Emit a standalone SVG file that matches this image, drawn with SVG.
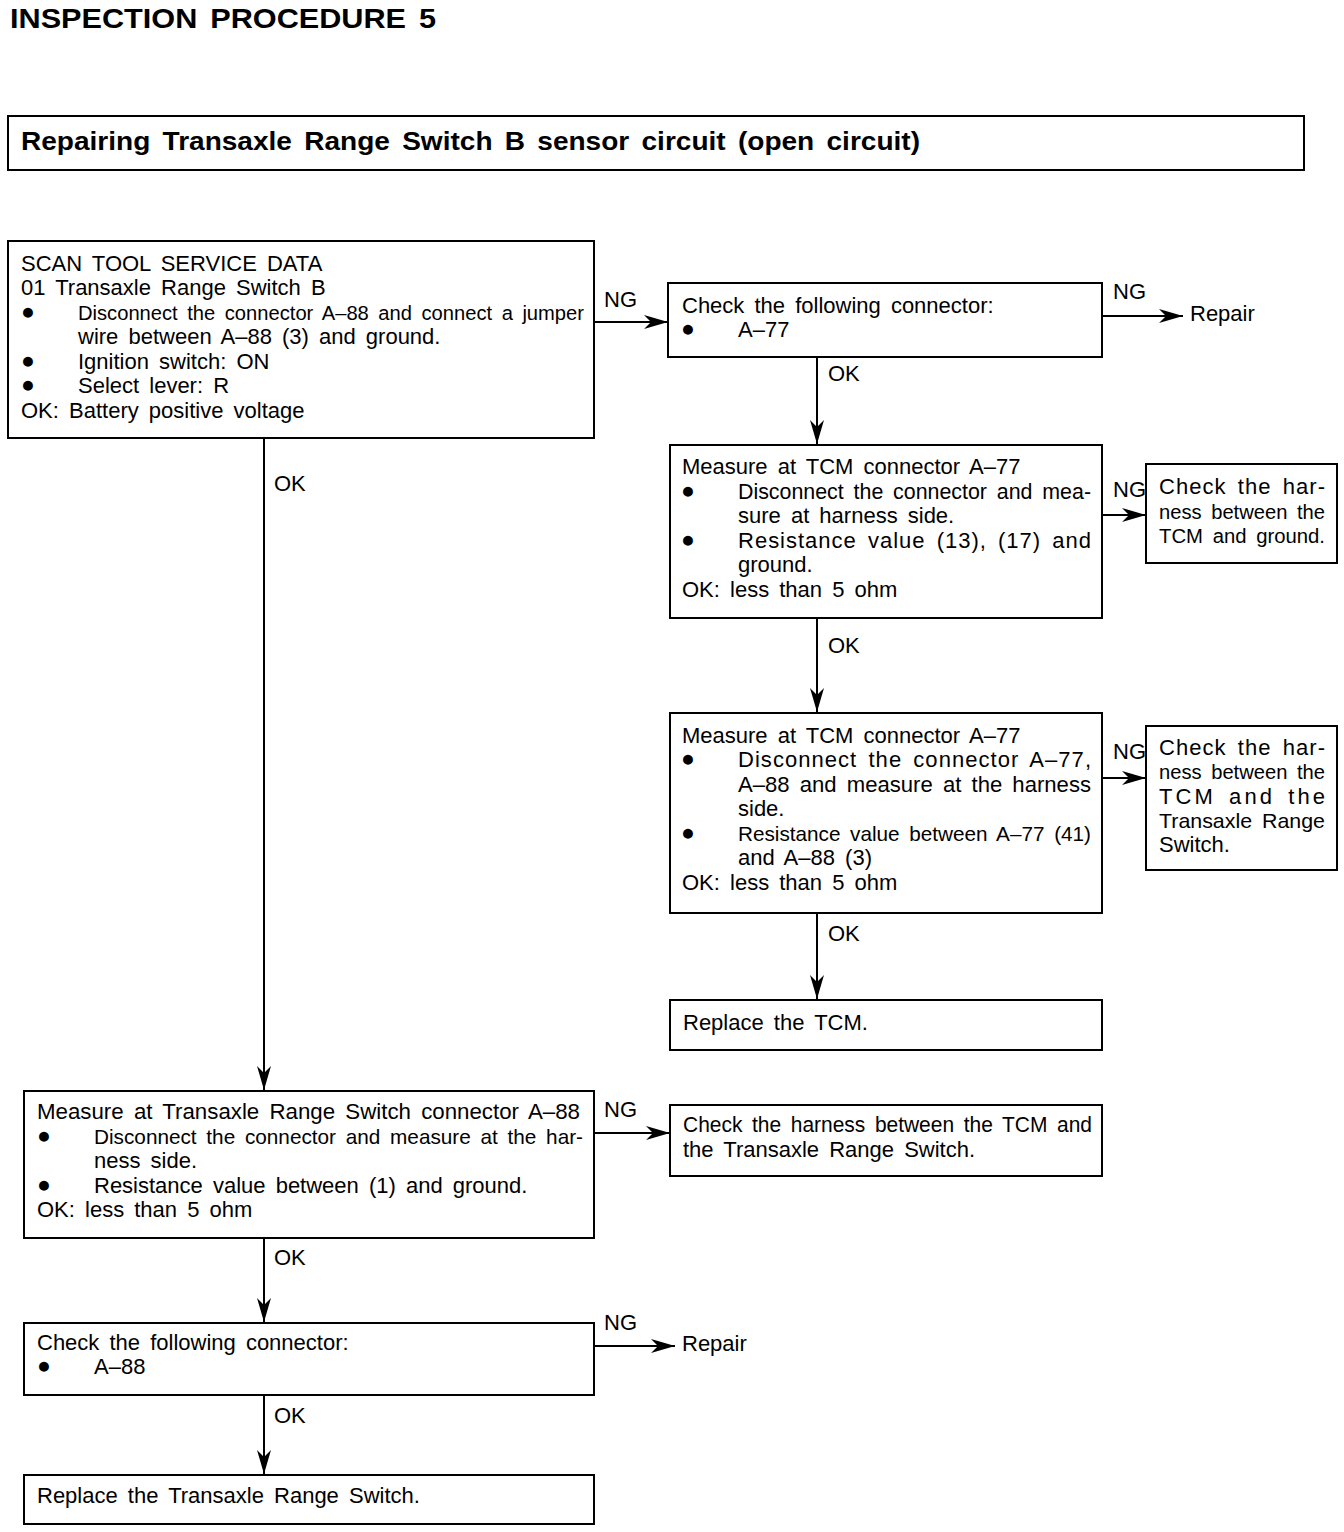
<svg xmlns="http://www.w3.org/2000/svg" width="1344" height="1532" viewBox="0 0 1344 1532">
<style>
text{font-family:"Liberation Sans",Arial,sans-serif;font-size:22px;fill:#000;word-spacing:4px}
.b{font-weight:bold}
.box{fill:#fff;stroke:#000;stroke-width:2}
.ln{fill:none;stroke:#000;stroke-width:2}
.bu{font-size:23px}
</style>
<defs>
<marker id="ah" markerUnits="userSpaceOnUse" markerWidth="26" markerHeight="16" refX="24" refY="7" orient="auto" viewBox="0 0 26 16">
<path d="M0,0 L24,7 L0,14 L7,7 Z" fill="#000"/>
</marker>
</defs>
<rect width="1344" height="1532" fill="#fff"/>
<text class="b" x="10" y="28" style="font-size:28px" textLength="426" lengthAdjust="spacingAndGlyphs">INSPECTION PROCEDURE 5</text>
<g id="header">
<rect class="box" x="8" y="116" width="1296" height="54"/>
<text class="b" x="21" y="150" style="font-size:25px" textLength="899" lengthAdjust="spacingAndGlyphs">Repairing Transaxle Range Switch B sensor circuit (open circuit)</text>
</g>
<g id="connectors">
<line class="ln" x1="594" y1="322" x2="668" y2="322" marker-end="url(#ah)"/>
<line class="ln" x1="1102" y1="316" x2="1183" y2="316" marker-end="url(#ah)"/>
<line class="ln" x1="817" y1="357" x2="817" y2="444" marker-end="url(#ah)"/>
<line class="ln" x1="1102" y1="515" x2="1146" y2="515" marker-end="url(#ah)"/>
<line class="ln" x1="817" y1="618" x2="817" y2="712" marker-end="url(#ah)"/>
<line class="ln" x1="1102" y1="778" x2="1146" y2="778" marker-end="url(#ah)"/>
<line class="ln" x1="817" y1="913" x2="817" y2="999" marker-end="url(#ah)"/>
<line class="ln" x1="264" y1="438" x2="264" y2="1090" marker-end="url(#ah)"/>
<line class="ln" x1="594" y1="1133" x2="670" y2="1133" marker-end="url(#ah)"/>
<line class="ln" x1="264" y1="1238" x2="264" y2="1322" marker-end="url(#ah)"/>
<line class="ln" x1="594" y1="1346" x2="675" y2="1346" marker-end="url(#ah)"/>
<line class="ln" x1="264" y1="1395" x2="264" y2="1474" marker-end="url(#ah)"/>
<text x="604" y="307">NG</text>
<text x="1113" y="299">NG</text>
<text x="1190" y="321">Repair</text>
<text x="828" y="381">OK</text>
<text x="1113" y="497">NG</text>
<text x="828" y="653">OK</text>
<text x="1113" y="759">NG</text>
<text x="828" y="941">OK</text>
<text x="274" y="491">OK</text>
<text x="604" y="1117">NG</text>
<text x="274" y="1265">OK</text>
<text x="604" y="1330">NG</text>
<text x="682" y="1351">Repair</text>
<text x="274" y="1423">OK</text>
</g>
<g id="box1">
<rect class="box" x="8" y="241" width="586" height="197"/>
<text x="21" y="271">SCAN TOOL SERVICE DATA</text>
<text x="21" y="295">01 Transaxle Range Switch B</text>
<text class="bu" x="21" y="319">●</text>
<text x="78" y="320" style="font-size:20.5px" textLength="506" lengthAdjust="spacingAndGlyphs">Disconnect the connector A–88 and connect a jumper</text>
<text x="78" y="344">wire between A–88 (3) and ground.</text>
<text class="bu" x="21" y="368">●</text>
<text x="78" y="369">Ignition switch: ON</text>
<text class="bu" x="21" y="392">●</text>
<text x="78" y="393">Select lever: R</text>
<text x="21" y="418">OK: Battery positive voltage</text>
</g>
<g id="box2">
<rect class="box" x="668" y="283" width="434" height="74"/>
<text x="682" y="313">Check the following connector:</text>
<text class="bu" x="681" y="336">●</text>
<text x="738" y="337">A–77</text>
</g>
<g id="box3">
<rect class="box" x="670" y="445" width="432" height="173"/>
<text x="682" y="474">Measure at TCM connector A–77</text>
<text class="bu" x="681" y="498">●</text>
<text x="738" y="499" textLength="353" lengthAdjust="spacingAndGlyphs">Disconnect the connector and mea-</text>
<text x="738" y="523">sure at harness side.</text>
<text class="bu" x="681" y="547">●</text>
<text x="738" y="548" textLength="353" lengthAdjust="spacing">Resistance value (13), (17) and</text>
<text x="738" y="572">ground.</text>
<text x="682" y="597">OK: less than 5 ohm</text>
</g>
<g id="box3b">
<rect class="box" x="1146" y="464" width="191" height="99"/>
<text x="1159" y="494" textLength="166" lengthAdjust="spacing">Check the har-</text>
<text x="1159" y="519" style="font-size:20px" textLength="166" lengthAdjust="spacingAndGlyphs">ness between the</text>
<text x="1159" y="543" style="font-size:20px" textLength="166" lengthAdjust="spacingAndGlyphs">TCM and ground.</text>
</g>
<g id="box4">
<rect class="box" x="670" y="713" width="432" height="200"/>
<text x="682" y="743">Measure at TCM connector A–77</text>
<text class="bu" x="681" y="766">●</text>
<text x="738" y="767" textLength="353" lengthAdjust="spacing">Disconnect the connector A–77,</text>
<text x="738" y="792" textLength="353" lengthAdjust="spacingAndGlyphs">A–88 and measure at the harness</text>
<text x="738" y="816">side.</text>
<text class="bu" x="681" y="840">●</text>
<text x="738" y="841" style="font-size:21px" textLength="353" lengthAdjust="spacingAndGlyphs">Resistance value between A–77 (41)</text>
<text x="738" y="865">and A–88 (3)</text>
<text x="682" y="890">OK: less than 5 ohm</text>
</g>
<g id="box4b">
<rect class="box" x="1146" y="726" width="191" height="144"/>
<text x="1159" y="755" textLength="166" lengthAdjust="spacing">Check the har-</text>
<text x="1159" y="779" style="font-size:20px" textLength="166" lengthAdjust="spacingAndGlyphs">ness between the</text>
<text x="1159" y="804" textLength="166" lengthAdjust="spacing">TCM and the</text>
<text x="1159" y="828" style="font-size:21px" textLength="166" lengthAdjust="spacingAndGlyphs">Transaxle Range</text>
<text x="1159" y="852">Switch.</text>
</g>
<g id="box5">
<rect class="box" x="670" y="1000" width="432" height="50"/>
<text x="683" y="1030">Replace the TCM.</text>
</g>
<g id="box6">
<rect class="box" x="24" y="1091" width="570" height="147"/>
<text x="37" y="1119" textLength="543" lengthAdjust="spacingAndGlyphs">Measure at Transaxle Range Switch connector A–88</text>
<text class="bu" x="37" y="1143">●</text>
<text x="94" y="1144" style="font-size:21px" textLength="489" lengthAdjust="spacingAndGlyphs">Disconnect the connector and measure at the har-</text>
<text x="94" y="1168">ness side.</text>
<text class="bu" x="37" y="1192">●</text>
<text x="94" y="1193">Resistance value between (1) and ground.</text>
<text x="37" y="1217">OK: less than 5 ohm</text>
</g>
<g id="box6b">
<rect class="box" x="670" y="1105" width="432" height="71"/>
<text x="683" y="1132" textLength="409" lengthAdjust="spacingAndGlyphs">Check the harness between the TCM and</text>
<text x="683" y="1157">the Transaxle Range Switch.</text>
</g>
<g id="box7">
<rect class="box" x="24" y="1323" width="570" height="72"/>
<text x="37" y="1350">Check the following connector:</text>
<text class="bu" x="37" y="1373">●</text>
<text x="94" y="1374">A–88</text>
</g>
<g id="box8">
<rect class="box" x="24" y="1475" width="570" height="49"/>
<text x="37" y="1503">Replace the Transaxle Range Switch.</text>
</g>
</svg>
